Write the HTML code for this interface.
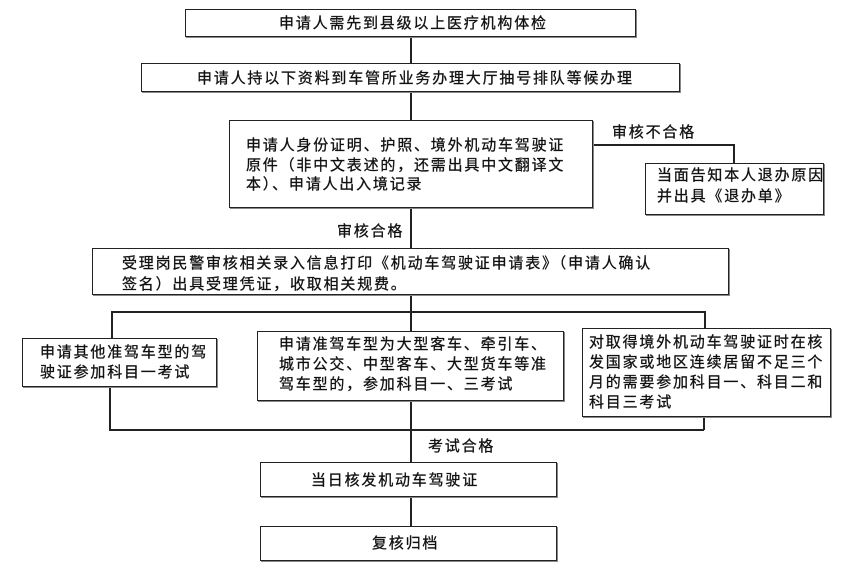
<!DOCTYPE html>
<html><head><meta charset="utf-8"><style>
body{margin:0;background:#fff;}
#c{position:relative;width:845px;height:572px;overflow:hidden;font-family:"Liberation Sans","Noto Sans CJK SC",sans-serif;font-size:15px;color:#111;}
.b{position:absolute;border:1.5px solid #222;box-sizing:border-box;box-shadow:1px 1px 0 #888;}
.t{position:absolute;white-space:nowrap;letter-spacing:1.8px;line-height:15px;-webkit-text-stroke:0.3px #111;}
.h{position:absolute;height:1.5px;background:#222;}
.v{position:absolute;width:1.5px;background:#222;}
</style></head><body><div id="c">
<div class="v" style="left:410px;top:37px;height:26px"></div>
<div class="v" style="left:410px;top:92px;height:28px"></div>
<div class="v" style="left:410px;top:208px;height:40px"></div>
<div class="h" style="left:593px;top:144px;width:141px"></div>
<div class="v" style="left:733px;top:144px;height:19px"></div>
<div class="v" style="left:410px;top:295px;height:36px"></div>
<div class="h" style="left:111px;top:311px;width:595px"></div>
<div class="v" style="left:111px;top:311px;height:27px"></div>
<div class="v" style="left:704px;top:311px;height:17px"></div>
<div class="v" style="left:109px;top:387px;height:43px"></div>
<div class="v" style="left:703px;top:417px;height:13px"></div>
<div class="h" style="left:109px;top:429px;width:595px"></div>
<div class="v" style="left:410px;top:401px;height:61px"></div>
<div class="v" style="left:410px;top:497px;height:29px"></div>
<div class="b" style="left:185px;top:9px;width:451px;height:28px"></div>
<div class="t" style="left:279px;top:16px">申请人需先到县级以上医疗机构体检</div>
<div class="b" style="left:141px;top:63px;width:539px;height:29px"></div>
<div class="t" style="left:197px;top:71px">申请人持以下资料到车管所业务办理大厅抽号排队等候办理</div>
<div class="b" style="left:229px;top:120px;width:364px;height:88px"></div>
<div class="t" style="left:246px;top:138px">申请人身份证明、护照、境外机动车驾驶证</div>
<div class="t" style="left:246px;top:158px">原件（非中文表述的，还需出具中文翻译文</div>
<div class="t" style="left:246px;top:177px">本）、申请人出入境记录</div>
<div class="t" style="left:612px;top:125px">审核不合格</div>
<div class="b" style="left:645px;top:163px;width:179px;height:52px"></div>
<div class="t" style="left:657px;top:168px">当面告知本人退办原因</div>
<div class="t" style="left:657px;top:189px">并出具《退办单》</div>
<div class="t" style="left:337px;top:224px">审核合格</div>
<div class="b" style="left:92px;top:248px;width:637px;height:47px"></div>
<div class="t" style="left:122px;top:256px">受理岗民警审核相关录入信息打印《机动车驾驶证申请表》（申请人确认</div>
<div class="t" style="left:122px;top:277px">签名）出具受理凭证，收取相关规费。</div>
<div class="b" style="left:22px;top:338px;width:195px;height:49px"></div>
<div class="t" style="left:40px;top:345px">申请其他准驾车型的驾</div>
<div class="t" style="left:40px;top:365px">驶证参加科目一考试</div>
<div class="b" style="left:257px;top:331px;width:307px;height:70px"></div>
<div class="t" style="left:279px;top:337px">申请准驾车型为大型客车、牵引车、</div>
<div class="t" style="left:279px;top:357px">城市公交、中型客车、大型货车等准</div>
<div class="t" style="left:279px;top:377px">驾车型的，参加科目一、三考试</div>
<div class="b" style="left:582px;top:328px;width:249px;height:89px"></div>
<div class="t" style="left:589px;top:335px">对取得境外机动车驾驶证时在核</div>
<div class="t" style="left:589px;top:355px">发国家或地区连续居留不足三个</div>
<div class="t" style="left:589px;top:375px">月的需要参加科目一、科目二和</div>
<div class="t" style="left:589px;top:395px">科目三考试</div>
<div class="t" style="left:428px;top:439px">考试合格</div>
<div class="b" style="left:260px;top:462px;width:297px;height:35px"></div>
<div class="t" style="left:311px;top:473px">当日核发机动车驾驶证</div>
<div class="b" style="left:260px;top:526px;width:297px;height:35px"></div>
<div class="t" style="left:372px;top:536px">复核归档</div>
</div></body></html>
